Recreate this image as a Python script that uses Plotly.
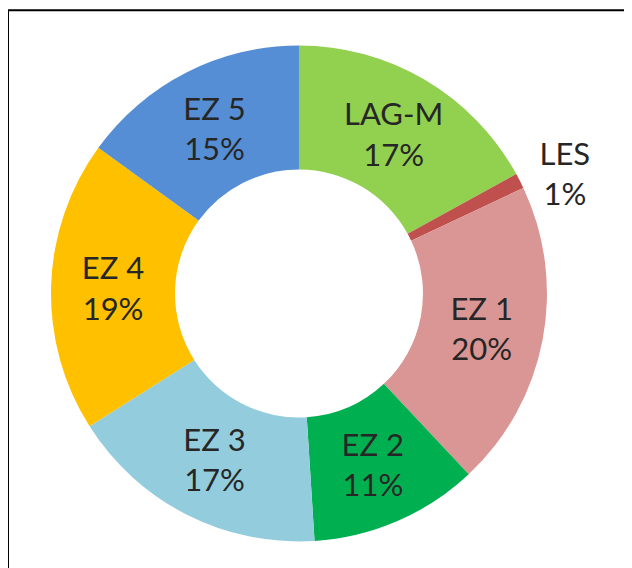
import plotly.graph_objects as go

labels = ["LAG-M", "LES", "EZ 1", "EZ 2", "EZ 3", "EZ 4", "EZ 5"]
values = [17, 1, 20, 11, 17, 19, 15]
colors = ["#92D050", "#C0504D", "#D99694", "#00B050", "#93CDDD", "#FFC000", "#558ED5"]
text_positions = ["inside", "outside", "inside", "inside", "inside", "inside", "inside"]

font_family = "Lato, 'Open Sans', sans-serif"
text_color = "#262626"

fig = go.Figure(
    go.Pie(
        labels=labels,
        values=values,
        hole=0.5,
        sort=False,
        direction="clockwise",
        rotation=0,
        marker=dict(colors=colors, line=dict(width=0)),
        texttemplate="%{label}<br>%{percent:.0%}",
        textposition=text_positions,
        insidetextorientation="horizontal",
        textfont=dict(family=font_family, size=31, color=text_color),
        insidetextfont=dict(family=font_family, size=31, color=text_color),
        outsidetextfont=dict(family=font_family, size=31, color=text_color),
        domain=dict(x=[0.068, 0.8528], y=[0.0608, 0.934]),
        showlegend=False,
    )
)

fig.update_layout(
    width=632,
    height=568,
    margin=dict(l=0, r=0, t=0, b=0),
    paper_bgcolor="white",
    plot_bgcolor="white",
    uniformtext=dict(minsize=31, mode="show"),
    shapes=[
        dict(
            type="rect",
            xref="paper",
            yref="paper",
            x0=0.0,
            x1=1.05,
            y0=-0.05,
            y1=0.996,
            line=dict(color="black", width=2),
            fillcolor="rgba(0,0,0,0)",
            layer="above",
        )
    ],
)

fig.write_html("out.html")
